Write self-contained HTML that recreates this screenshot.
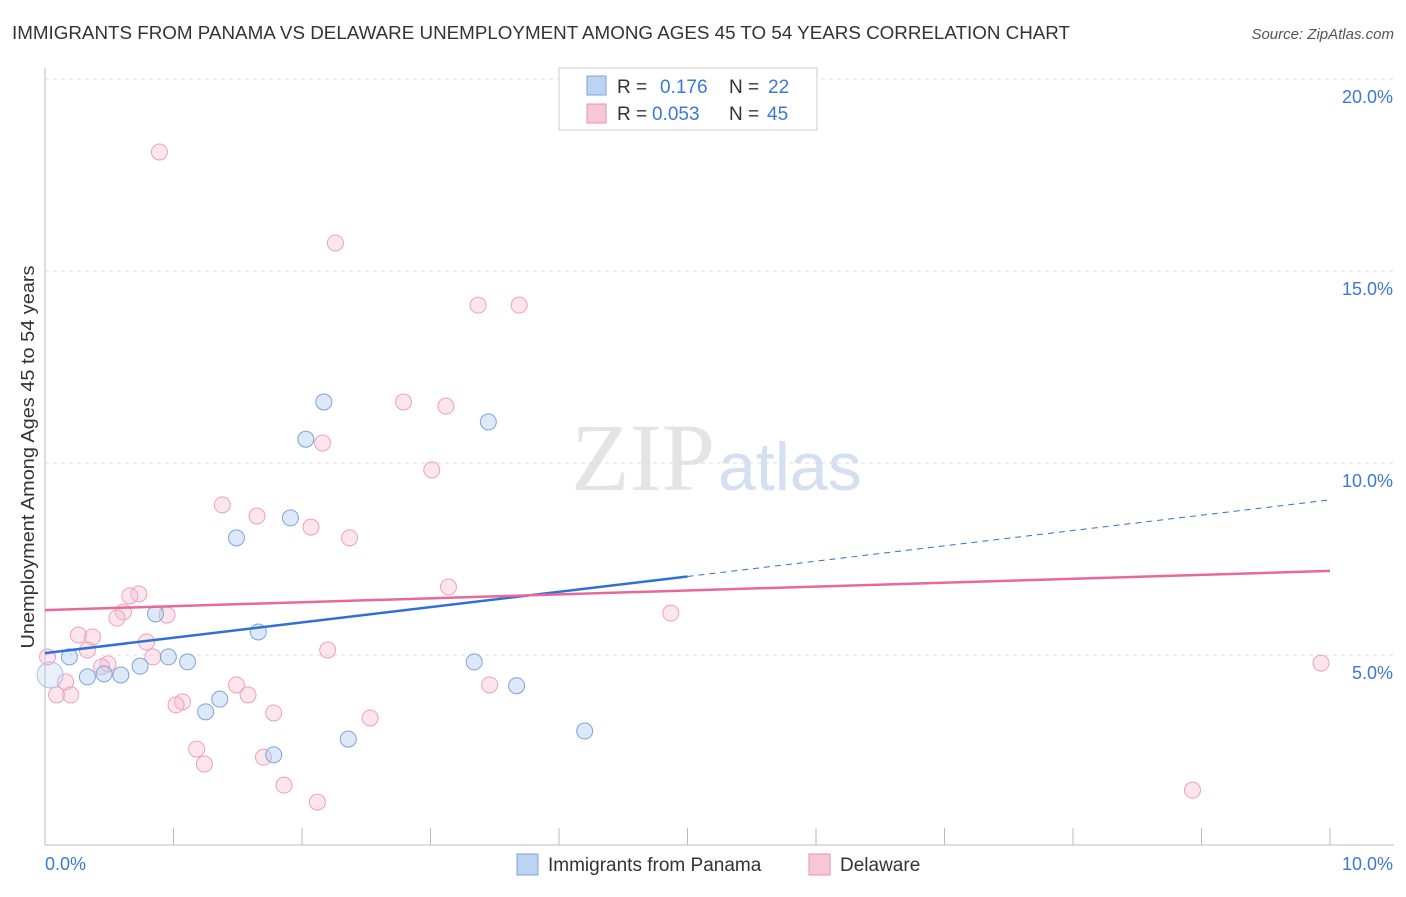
<!DOCTYPE html>
<html><head><meta charset="utf-8"><style>
body{margin:0;background:#fff;font-family:"Liberation Sans",sans-serif;}
</style></head><body>
<svg id="chart" width="1406" height="892" xmlns="http://www.w3.org/2000/svg" font-family="Liberation Sans, sans-serif">
<text x="12" y="39" font-size="18" fill="#333" textLength="1058" lengthAdjust="spacingAndGlyphs">IMMIGRANTS FROM PANAMA VS DELAWARE UNEMPLOYMENT AMONG AGES 45 TO 54 YEARS CORRELATION CHART</text>
<text x="1394" y="39" font-size="15" fill="#555" font-style="italic" text-anchor="end">Source: ZipAtlas.com</text>
<text transform="translate(34,457) rotate(-90)" font-size="18" fill="#333" text-anchor="middle" textLength="383" lengthAdjust="spacingAndGlyphs">Unemployment Among Ages 45 to 54 years</text>
<text x="715" y="490" font-size="96" text-anchor="end" fill="#e4e4e4" font-family="Liberation Serif, serif">ZIP</text>
<text x="718" y="490" font-size="68" fill="#d3e0f2">atlas</text>
<g id="grid"></g><g id="marks"></g>
<g>
<rect x="559" y="68" width="258" height="62" fill="#fff" stroke="#ccc"/>
<rect x="587" y="76" width="19" height="19" fill="#bcd3f2" stroke="#7aa3dd"/>
<text x="617" y="93" font-size="19" fill="#333">R = </text><text x="660" y="93" font-size="19" fill="#3a78d8">0.176</text>
<text x="729" y="93" font-size="19" fill="#333">N = </text><text x="768" y="93" font-size="19" fill="#3a78d8">22</text>
<rect x="587" y="104" width="19" height="19" fill="#f8c6d6" stroke="#e890ae"/>
<text x="617" y="120" font-size="19" fill="#333">R = </text><text x="652" y="120" font-size="19" fill="#3a78d8">0.053</text>
<text x="729" y="120" font-size="19" fill="#333">N = </text><text x="767" y="120" font-size="19" fill="#3a78d8">45</text>
</g>
<g>
<rect x="517" y="854" width="21" height="21" fill="#bcd3f2" stroke="#7aa3dd"/>
<text x="548" y="871" font-size="19" fill="#333">Immigrants from Panama</text>
<rect x="809" y="854" width="21" height="21" fill="#f8c6d6" stroke="#e890ae"/>
<text x="840" y="871" font-size="19" fill="#333">Delaware</text>
</g>
</svg>
<script>
const blueX=[0.19,0.33,0.46,0.59,0.74,0.86,0.96,1.11,1.25,1.36,1.49,1.66,1.78,1.91,2.03,2.17,2.36,3.34,3.45,3.67,4.20,0.04];
const blueY=[4.95,4.43,4.51,4.48,4.71,6.07,4.95,4.82,3.52,3.85,8.05,5.60,2.40,8.57,10.62,11.59,2.81,4.82,11.07,4.20,3.02,4.48];
const pinkX=[0.89,2.26,3.37,3.69,2.79,3.12,2.16,3.01,1.38,1.65,2.07,2.37,3.14,0.73,0.66,0.61,0.56,0.95,0.26,0.37,0.79,0.33,0.84,2.20,0.02,0.49,0.44,0.16,1.49,3.46,0.09,0.20,1.58,1.07,1.02,1.78,2.53,1.18,1.24,1.70,1.86,2.12,4.87,9.93,8.93];
const pinkY=[18.10,15.73,14.11,14.11,11.59,11.48,10.52,9.82,8.91,8.62,8.33,8.05,6.77,6.59,6.54,6.12,5.96,6.04,5.52,5.47,5.34,5.13,4.95,5.13,4.95,4.77,4.69,4.30,4.22,4.22,3.96,3.96,3.96,3.78,3.70,3.49,3.36,2.55,2.16,2.34,1.61,1.17,6.09,4.79,1.48];
const yTicks=[5,10,15,20];
const yTickLabels=["5.0%","10.0%","15.0%","20.0%"];
const xTickVals=[0,1,2,3,4,5,6,7,8,9,10];
const blueTrend=[5.05,9.04];
const pinkTrend=[6.17,7.19];
const X=v=>45+v*128.5, Y=v=>847-v*38.4;
const NS="http://www.w3.org/2000/svg";
const g=document.getElementById('grid'), m=document.getElementById('marks');
function mk(p,tag,a){const e=document.createElementNS(NS,tag);for(const k in a)e.setAttribute(k,a[k]);p.appendChild(e);return e;}
yTicks.forEach((t,i)=>{
 const l=mk(g,'line',{x1:45,x2:1394,y1:Y(t),y2:Y(t),stroke:'#ddd','stroke-dasharray':'4,4'});
 
 
 const tx=mk(g,'text',{x:1393,y:Y(t)+24,'font-size':18,fill:'#3a78d8','text-anchor':'end'});
 tx.textContent=yTickLabels[i];
 
 
});
const ax=mk(g,'line',{x1:45,x2:1394,y1:845,y2:845,stroke:'#bbb'});


const ay=mk(g,'line',{x1:45,x2:45,y1:68,y2:845,stroke:'#bbb'});


xTickVals.forEach(t=>{
 const l=mk(g,'line',{x1:X(t),x2:X(t),y1:828,y2:845,stroke:'#bbb'});
 
 
});
[["0.0%",45,'start'],["10.0%",1393,'end']].forEach(d=>{
 const tx=mk(g,'text',{x:d[1],y:870,'font-size':18,fill:'#3a78d8','text-anchor':d[2]});
 tx.textContent=d[0];
 
 
});
pinkX.forEach((x,i)=>{
 const c=mk(m,'circle',{cx:X(x),cy:Y(pinkY[i]),r:8,fill:'rgba(248,190,210,0.4)',stroke:'#eea0ba','stroke-width':1});
 
 
});
blueX.forEach((x,i)=>{
 const c=mk(m,'circle',{cx:X(x),cy:Y(blueY[i]),r:i==21?13:8,fill:i==21?'rgba(180,205,240,0.3)':'rgba(180,205,240,0.45)',stroke:i==21?'#a8c2e8':'#7aa3dd','stroke-width':1});
 
 
});
const bx=5.0, by=blueTrend[0]+(blueTrend[1]-blueTrend[0])*bx/10;
const b1=mk(m,'line',{x1:X(0),y1:Y(blueTrend[0]),x2:X(bx),y2:Y(by),stroke:'#2f6fd6','stroke-width':2.5});


const b2=mk(m,'line',{x1:X(bx),y1:Y(by),x2:X(10),y2:Y(blueTrend[1]),stroke:'#2f6fd6','stroke-width':1,'stroke-dasharray':'6,5'});


const p1=mk(m,'line',{x1:X(0),y1:Y(pinkTrend[0]),x2:X(10),y2:Y(pinkTrend[1]),stroke:'#e8689a','stroke-width':2.5});


</script>
</body></html>
